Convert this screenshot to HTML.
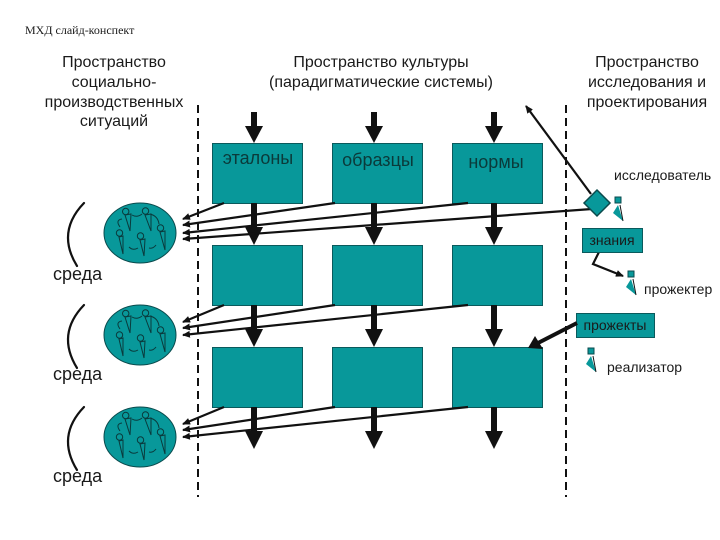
<!DOCTYPE html>
<html>
<head>
<meta charset="utf-8">
<style>
html,body{margin:0;padding:0;background:#fff;width:720px;height:540px;overflow:hidden}
svg{display:block}
text{font-family:"Liberation Sans",sans-serif;fill:#1a1a1a}
.h{font-size:16px;text-anchor:middle}
.b{font-size:18px;text-anchor:middle;fill:#0b3a3a}
.s{font-size:14px}
.box{fill:#08989a;stroke:#0a5a5c;stroke-width:1}
.thin{stroke:#111;stroke-width:2.200;fill:none}
</style>
</head>
<body>
<svg width="720" height="540" viewBox="0 0 720 540" xmlns="http://www.w3.org/2000/svg">
<defs>
<g id="top">
<rect x="-3" y="0" width="6" height="16" fill="#111"/>
<polygon points="-9,14 9,14 0,31" fill="#111"/>
</g>
<g id="down">
<rect x="-3" y="0" width="6" height="26" fill="#111"/>
<polygon points="-9,24 9,24 0,42" fill="#111"/>
</g>
<g id="grp">
<ellipse cx="140" cy="233" rx="36" ry="30" fill="#08989a" stroke="#0a4a4c" stroke-width="1"/>
<g fill="none" stroke="#0a3a3c" stroke-width="1">
<circle cx="125.700" cy="211.500" r="3.200"/>
<circle cx="145.500" cy="211" r="3.200"/>
<circle cx="160.500" cy="228" r="3.200"/>
<circle cx="119.500" cy="233" r="3.200"/>
<circle cx="140.500" cy="236" r="3.200"/>
<polygon points="125,215 130,231 131,214"/>
<polygon points="145,215 151,231 151,214"/>
<polygon points="160,232 165,250 165,231"/>
<polygon points="119,237 123,254 123,236"/>
<polygon points="140,240 144,256 145,239"/>
<path d="M132 215 Q137 218 142 214"/>
<path d="M120 227 Q115 220 122 219"/>
<path d="M150 214 Q158 216 159 224"/>
<path d="M129 247 Q133 251 138 248"/>
<path d="M149 248 Q153 249 156 245"/>
</g>
</g>
<g id="fig">
<rect x="-3" y="-3" width="6" height="6" fill="#08989a" stroke="#0a4a4c" stroke-width="1"/>
<polygon points="0,5 -5,13 5,21" fill="#08989a"/>
<line x1="2" y1="5" x2="5" y2="21" stroke="#111" stroke-width="1"/>
</g>
<marker id="ah" markerWidth="8" markerHeight="7" refX="7" refY="3.500" orient="auto" markerUnits="userSpaceOnUse">
<polygon points="0,0 8,3.500 0,7" fill="#111"/>
</marker>
</defs>

<text x="25" y="34" style='font-family:"Liberation Serif",serif;font-size:12px' fill="#111">МХД слайд-конспект</text>

<text class="h" x="114" y="67">Пространство</text>
<text class="h" x="114" y="87">социально-</text>
<text class="h" x="114" y="107">производственных</text>
<text class="h" x="114" y="126">ситуаций</text>

<text class="h" x="381" y="67">Пространство культуры</text>
<text class="h" x="381" y="87">(парадигматические системы)</text>

<text class="h" x="647" y="67">Пространство</text>
<text class="h" x="647" y="87">исследования и</text>
<text class="h" x="647" y="107">проектирования</text>

<line x1="198" y1="105" x2="198" y2="497" stroke="#111" stroke-width="2" stroke-dasharray="8 5"/>
<line x1="566" y1="105" x2="566" y2="497" stroke="#111" stroke-width="2" stroke-dasharray="8 5"/>

<rect class="box" x="212.500" y="143.500" width="90" height="60"/>
<rect class="box" x="332.500" y="143.500" width="90" height="60"/>
<rect class="box" x="452.500" y="143.500" width="90" height="60"/>
<rect class="box" x="212.500" y="245.500" width="90" height="60"/>
<rect class="box" x="332.500" y="245.500" width="90" height="60"/>
<rect class="box" x="452.500" y="245.500" width="90" height="60"/>
<rect class="box" x="212.500" y="347.500" width="90" height="60"/>
<rect class="box" x="332.500" y="347.500" width="90" height="60"/>
<rect class="box" x="452.500" y="347.500" width="90" height="60"/>

<text class="b" x="258" y="164">эталоны</text>
<text class="b" x="378" y="166">образцы</text>
<text class="b" x="496" y="168">нормы</text>

<use href="#top" x="254" y="112"/><use href="#top" x="374" y="112"/><use href="#top" x="494" y="112"/>
<use href="#down" x="254" y="203"/><use href="#down" x="374" y="203"/><use href="#down" x="494" y="203"/>
<use href="#down" x="254" y="305"/><use href="#down" x="374" y="305"/><use href="#down" x="494" y="305"/>
<use href="#down" x="254" y="407"/><use href="#down" x="374" y="407"/><use href="#down" x="494" y="407"/>

<use href="#grp"/>
<use href="#grp" y="102"/>
<use href="#grp" y="204"/>

<g class="thin" stroke-linecap="round">
<path d="M84 203 Q56 232 77 266"/>
<path d="M84 305 Q56 334 77 368"/>
<path d="M84 407 Q56 436 77 470"/>
</g>
<text x="53" y="280" font-size="18">среда</text>
<text x="53" y="380" font-size="18">среда</text>
<text x="53" y="482" font-size="18">среда</text>

<g class="thin">
<line x1="224" y1="203" x2="183" y2="219" marker-end="url(#ah)"/>
<line x1="335" y1="203" x2="183" y2="225" marker-end="url(#ah)"/>
<line x1="468" y1="203" x2="183" y2="233" marker-end="url(#ah)"/>
<line x1="592" y1="209" x2="183" y2="239" marker-end="url(#ah)"/>
<line x1="224" y1="305" x2="183" y2="322" marker-end="url(#ah)"/>
<line x1="335" y1="305" x2="183" y2="328" marker-end="url(#ah)"/>
<line x1="468" y1="305" x2="183" y2="335" marker-end="url(#ah)"/>
<line x1="224" y1="407" x2="183" y2="424" marker-end="url(#ah)"/>
<line x1="335" y1="407" x2="183" y2="430" marker-end="url(#ah)"/>
<line x1="468" y1="407" x2="183" y2="437" marker-end="url(#ah)"/>
<line x1="591" y1="194" x2="526" y2="106" marker-end="url(#ah)"/>
<polyline points="599,252 593,264 623,276" marker-end="url(#ah)"/>
</g>

<polygon points="597,190 610,203 597,216 584,203" fill="#08989a" stroke="#0a4a4c" stroke-width="1.500"/>
<use href="#fig" x="618" y="200"/>
<use href="#fig" x="631" y="274"/>
<use href="#fig" x="591" y="351"/>

<text class="s" x="614" y="180">исследователь</text>
<rect class="box" x="582.500" y="228.500" width="60" height="24"/>
<text x="612" y="245" font-size="14" text-anchor="middle" fill="#0b3a3a">знания</text>
<text class="s" x="644" y="294">прожектер</text>
<rect class="box" x="576.500" y="313.500" width="78" height="24"/>
<text x="615" y="330" font-size="14" text-anchor="middle" fill="#0b3a3a">прожекты</text>
<text class="s" x="607" y="372">реализатор</text>

<line x1="577" y1="323" x2="538" y2="343" stroke="#111" stroke-width="4"/>
<polygon points="528,348 535,336 543,349" fill="#111"/>
</svg>
</body>
</html>
